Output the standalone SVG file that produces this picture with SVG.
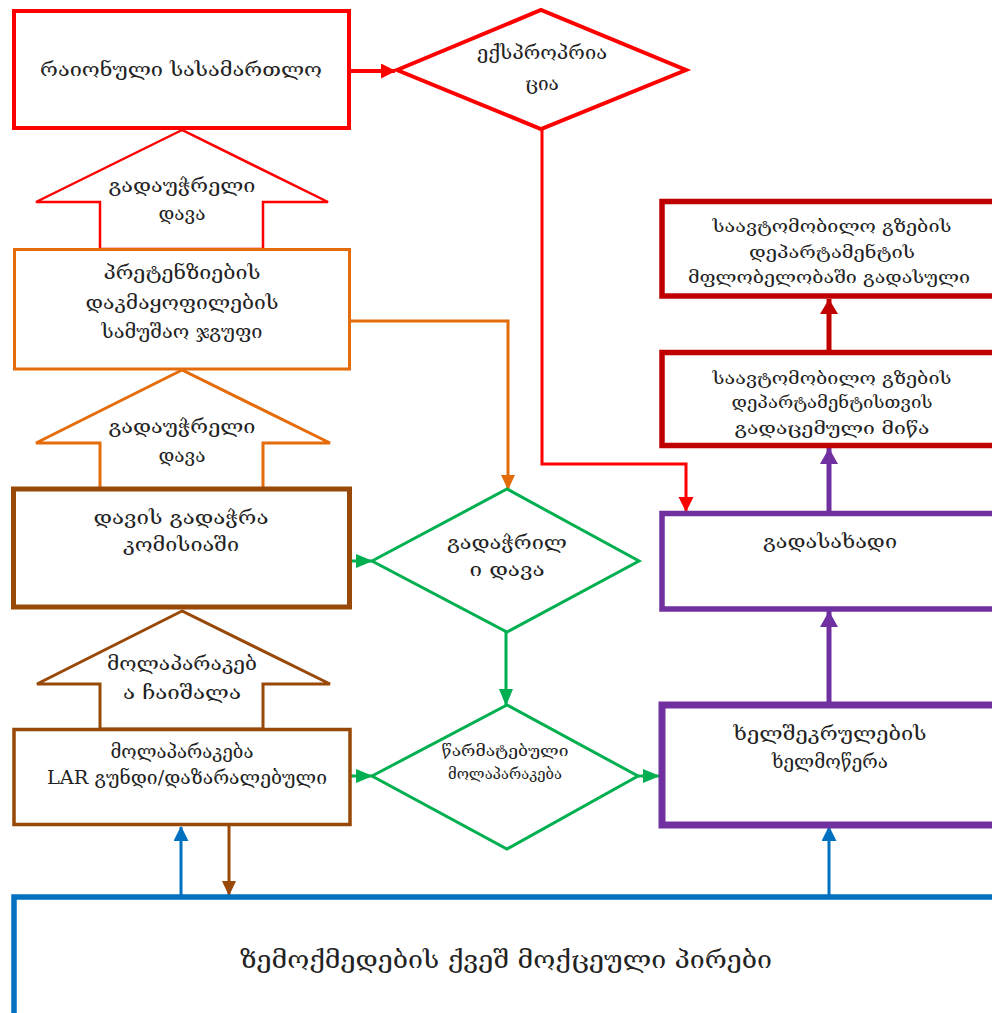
<svg xmlns="http://www.w3.org/2000/svg" width="992" height="1013" viewBox="0 0 992 1013">
<style>
text{font-family:"DejaVu Serif","DejaVu Sans",sans-serif;font-size:19px;fill:#222;text-anchor:middle}
.sm{font-size:15px}
.md{font-size:17px}
.lg{font-size:24px}
.box{fill:#fff}
.c{fill:none}
</style>
<defs>
<marker id="aRed" markerWidth="16" markerHeight="16" refX="14" refY="7.5" orient="auto" markerUnits="userSpaceOnUse"><path d="M0,0 L15,7.5 L0,15 Z" fill="#FF0000"/></marker>
<marker id="aOr" markerWidth="16" markerHeight="16" refX="14" refY="7" orient="auto" markerUnits="userSpaceOnUse"><path d="M0,0 L15,7 L0,14 Z" fill="#E46C0A"/></marker>
<marker id="aGr" markerWidth="18" markerHeight="16" refX="16" refY="7" orient="auto" markerUnits="userSpaceOnUse"><path d="M0,0 L17,7 L0,14 Z" fill="#00B050"/></marker>
<marker id="aBl" markerWidth="16" markerHeight="16" refX="14" refY="7.5" orient="auto" markerUnits="userSpaceOnUse"><path d="M0,0 L15,7.5 L0,15 Z" fill="#0070C0"/></marker>
<marker id="aBr" markerWidth="16" markerHeight="16" refX="14" refY="7" orient="auto" markerUnits="userSpaceOnUse"><path d="M0,0 L15,7 L0,14 Z" fill="#984807"/></marker>
<marker id="aPu" markerWidth="18" markerHeight="20" refX="16" refY="9" orient="auto" markerUnits="userSpaceOnUse"><path d="M0,0 L16,9 L0,18 Z" fill="#7030A0"/></marker>
<marker id="aDr" markerWidth="18" markerHeight="20" refX="15" refY="9" orient="auto" markerUnits="userSpaceOnUse"><path d="M0,0 L15,9 L0,18 Z" fill="#C00000"/></marker>
</defs>

<g id="connectors">
<path class="c" d="M350,71 H395" stroke="#FF0000" stroke-width="4" marker-end="url(#aRed)"/>
<path class="c" d="M542,129 V464 H686 V511" stroke="#FF0000" stroke-width="3" marker-end="url(#aRed)"/>
<path class="c" d="M349,321 H508 V489" stroke="#E46C0A" stroke-width="3" marker-end="url(#aOr)"/>
<path class="c" d="M350,561 H372" stroke="#00B050" stroke-width="3" marker-end="url(#aGr)"/>
<path class="c" d="M506,632 V705" stroke="#00B050" stroke-width="3" marker-end="url(#aGr)"/>
<path class="c" d="M350,776 H372" stroke="#00B050" stroke-width="3" marker-end="url(#aGr)"/>
<path class="c" d="M638,776 H659" stroke="#00B050" stroke-width="3" marker-end="url(#aGr)"/>
<path class="c" d="M181,895 V827" stroke="#0070C0" stroke-width="3" marker-end="url(#aBl)"/>
<path class="c" d="M229,826 V895" stroke="#984807" stroke-width="3" marker-end="url(#aBr)"/>
<path class="c" d="M829,895 V827" stroke="#0070C0" stroke-width="3" marker-end="url(#aBl)"/>
<path class="c" d="M829,702 V611" stroke="#7030A0" stroke-width="5" marker-end="url(#aPu)"/>
<path class="c" d="M829,511 V448" stroke="#7030A0" stroke-width="5" marker-end="url(#aPu)"/>
<path class="c" d="M829,350 V299" stroke="#C00000" stroke-width="5" marker-end="url(#aDr)"/>
</g>

<g id="court">
<rect class="box" x="14" y="11" width="335" height="117" stroke="#FF0000" stroke-width="4"/>
<text x="181" y="76" textLength="282" lengthAdjust="spacingAndGlyphs">რაიონული სასამართლო</text>
</g>

<g id="expropriation">
<polygon class="box" points="397,70 541,10 686,70 541,129" stroke="#FF0000" stroke-width="4"/>
<text x="542" y="59" textLength="130" lengthAdjust="spacingAndGlyphs">ექსპროპრია</text>
<text x="542" y="90">ცია</text>
</g>

<g id="unresolved1">
<polygon class="box" points="182,130 36,202 100,202 100,249 263,249 263,202 328,202" stroke="#FF0000" stroke-width="2.5"/>
<text x="182" y="192" textLength="147" lengthAdjust="spacingAndGlyphs">გადაუჭრელი</text>
<text x="182" y="220">დავა</text>
</g>

<g id="workgroup">
<rect class="box" x="14.5" y="249.5" width="335" height="119.5" stroke="#E46C0A" stroke-width="3"/>
<text x="182" y="279" textLength="157" lengthAdjust="spacingAndGlyphs">პრეტენზიების</text>
<text x="182" y="309" textLength="193" lengthAdjust="spacingAndGlyphs">დაკმაყოფილების</text>
<text x="182" y="338" textLength="161" lengthAdjust="spacingAndGlyphs">სამუშაო ჯგუფი</text>
</g>

<g id="unresolved2">
<polygon class="box" points="182,370 36,443 100,443 100,489 263,489 263,443 330,443" stroke="#E46C0A" stroke-width="3"/>
<text x="182" y="433" textLength="147" lengthAdjust="spacingAndGlyphs">გადაუჭრელი</text>
<text x="182" y="462">დავა</text>
</g>

<g id="commission">
<rect class="box" x="13.5" y="489" width="336" height="118" stroke="#984807" stroke-width="5"/>
<text x="181" y="524" textLength="175" lengthAdjust="spacingAndGlyphs">დავის გადაჭრა</text>
<text x="181" y="551" textLength="116" lengthAdjust="spacingAndGlyphs">კომისიაში</text>
</g>

<g id="failed">
<polygon class="box" points="182,611 37,684 100,684 100,729 263,729 263,684 330,684" stroke="#984807" stroke-width="3"/>
<text x="182" y="670" textLength="150" lengthAdjust="spacingAndGlyphs">მოლაპარაკებ</text>
<text x="182" y="699" textLength="118" lengthAdjust="spacingAndGlyphs">ა ჩაიშალა</text>
</g>

<g id="negotiation">
<rect class="box" x="14" y="729.5" width="336" height="95" stroke="#984807" stroke-width="3.5"/>
<text x="182" y="758" textLength="143" lengthAdjust="spacingAndGlyphs">მოლაპარაკება</text>
<text x="187" y="784" textLength="280" lengthAdjust="spacingAndGlyphs">LAR გუნდი/დაზარალებული</text>
</g>

<g id="resolved">
<polygon class="box" points="372,561 507,489 639,561 507,632" stroke="#00B050" stroke-width="3"/>
<text x="507" y="549" textLength="120" lengthAdjust="spacingAndGlyphs">გადაჭრილ</text>
<text x="507" y="576" textLength="75" lengthAdjust="spacingAndGlyphs">ი დავა</text>
</g>

<g id="successful">
<polygon class="box" points="372,776 507,705 638,776 507,849" stroke="#00B050" stroke-width="3"/>
<text class="sm" x="505" y="756" textLength="127" lengthAdjust="spacingAndGlyphs">წარმატებული</text>
<text class="sm" x="505" y="779" textLength="114" lengthAdjust="spacingAndGlyphs">მოლაპარაკება</text>
</g>

<g id="contract">
<rect class="box" x="662" y="705" width="345" height="120" stroke="#7030A0" stroke-width="7"/>
<text x="830" y="740" textLength="193" lengthAdjust="spacingAndGlyphs">ხელშეკრულების</text>
<text x="830" y="768" textLength="116" lengthAdjust="spacingAndGlyphs">ხელმოწერა</text>
</g>

<g id="payment">
<rect class="box" x="662" y="513.5" width="345" height="95.5" stroke="#7030A0" stroke-width="5.5"/>
<text x="830" y="548" textLength="134" lengthAdjust="spacingAndGlyphs">გადასახადი</text>
</g>

<g id="land-transferred">
<rect class="box" x="662" y="352.5" width="345" height="93" stroke="#C00000" stroke-width="5.5"/>
<text class="md" x="832" y="384" textLength="239" lengthAdjust="spacingAndGlyphs">საავტომობილო გზების</text>
<text class="md" x="832" y="408" textLength="201" lengthAdjust="spacingAndGlyphs">დეპარტამენტისთვის</text>
<text class="md" x="832" y="434" textLength="195" lengthAdjust="spacingAndGlyphs">გადაცემული მიწა</text>
</g>

<g id="owned">
<rect class="box" x="662" y="201.5" width="345" height="94.5" stroke="#C00000" stroke-width="5.5"/>
<text class="md" x="832" y="232" textLength="239" lengthAdjust="spacingAndGlyphs">საავტომობილო გზების</text>
<text class="md" x="832" y="258" textLength="166" lengthAdjust="spacingAndGlyphs">დეპარტამენტის</text>
<text class="md" x="829" y="283" textLength="282" lengthAdjust="spacingAndGlyphs">მფლობელობაში გადასული</text>
</g>

<g id="affected">
<rect class="box" x="14" y="897" width="1000" height="140" stroke="#0070C0" stroke-width="5.5"/>
<text class="lg" x="506" y="968" textLength="532" lengthAdjust="spacingAndGlyphs">ზემოქმედების ქვეშ მოქცეული პირები</text>
</g>
</svg>
